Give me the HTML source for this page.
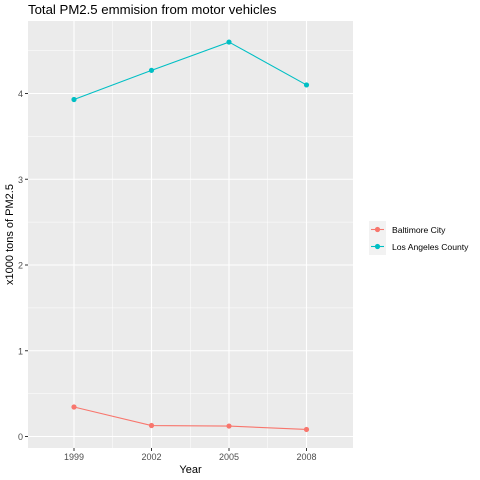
<!DOCTYPE html>
<html><head><meta charset="utf-8"><style>
html,body{margin:0;padding:0;background:#fff;}
svg{display:block;font-family:"Liberation Sans",sans-serif;}
</style></head><body>
<svg id="chart" width="480" height="480" xmlns="http://www.w3.org/2000/svg"></svg>
<script>
const years = [1999, 2002, 2005, 2008];
const baltimore = [0.344, 0.128, 0.122, 0.082];
const losAngeles = [3.93, 4.27, 4.60, 4.10];
const yTicks = [0, 1, 2, 3, 4];
const seriesNames = ["Baltimore City", "Los Angeles County"];

const NS = "http://www.w3.org/2000/svg";
const svg = document.getElementById("chart");
const P = {l: 28, r: 353, t: 21, b: 448};
function xs(v){ return 74 + (v - 1999) * (306.5 - 74) / 9; }
function ys(v){ return 436.5 - v * 85.75; }
function mk(tag, attrs, parent){
  const e = document.createElementNS(NS, tag);
  for (const k in attrs) e.setAttribute(k, attrs[k]);
  (parent || svg).appendChild(e);
  return e;
}
const panel = mk("rect", {x: P.l, y: P.t, width: P.r - P.l, height: P.b - P.t, fill: "#ebebeb"});


for (let i = 0; i < yTicks.length - 1; i++) {
  const y = ys((yTicks[i] + yTicks[i+1]) / 2);
  const g = mk("line", {x1: P.l, x2: P.r, y1: y, y2: y, stroke: "#fff", "stroke-width": 0.5});
  
  
}
{
  const y = ys(yTicks[yTicks.length-1] + 0.5);
  if (y > P.t) { const g = mk("line", {x1: P.l, x2: P.r, y1: y, y2: y, stroke: "#fff", "stroke-width": 0.5});
  
   }
}
for (let i = 0; i < years.length - 1; i++) {
  const x = xs((years[i] + years[i+1]) / 2);
  const g = mk("line", {x1: x, x2: x, y1: P.t, y2: P.b, stroke: "#fff", "stroke-width": 0.5});
  
  
}
yTicks.forEach(v => {
  const y = ys(v);
  const g = mk("line", {x1: P.l, x2: P.r, y1: y, y2: y, stroke: "#fff", "stroke-width": 1.1});
  
  
  const t = mk("line", {x1: P.l - 3, x2: P.l, y1: y, y2: y, stroke: "#333", "stroke-width": 1});
  
  
  const l = mk("text", {x: P.l - 5, y: y + 3.5, "text-anchor": "end", "font-size": 9, fill: "#4d4d4d"});
  l.textContent = v;
  
  
});
years.forEach(v => {
  const x = xs(v);
  const g = mk("line", {x1: x, x2: x, y1: P.t, y2: P.b, stroke: "#fff", "stroke-width": 1.1});
  
  
  const t = mk("line", {x1: x, x2: x, y1: P.b, y2: P.b + 3, stroke: "#333", "stroke-width": 1});
  
  
  const l = mk("text", {x: x, y: P.b + 12, "text-anchor": "middle", "font-size": 9, fill: "#4d4d4d"});
  l.textContent = v;
  
  
});
const colors = ["#f8766d", "#00bfc4"];
[baltimore, losAngeles].forEach((vals, si) => {
  const pts = vals.map((v, i) => xs(years[i]) + "," + ys(v)).join(" ");
  const pl = mk("polyline", {points: pts, fill: "none", stroke: colors[si], "stroke-width": 1.1});
  
  
  vals.forEach((v, i) => {
    const c = mk("circle", {cx: xs(years[i]), cy: ys(v), r: 2.6, fill: colors[si]});
    
    
  });
});
const tt = mk("text", {x: 28, y: 14, "font-size": 13.2, fill: "#000"});
tt.textContent = "Total PM2.5 emmision from motor vehicles";


const xt = mk("text", {x: (P.l + P.r) / 2, y: 473, "text-anchor": "middle", "font-size": 11, fill: "#000"});
xt.textContent = "Year";


const yt = mk("text", {x: 0, y: 0, "text-anchor": "middle", "font-size": 11, fill: "#000", transform: "translate(13," + ((P.t + P.b) / 2) + ") rotate(-90)"});
yt.textContent = "x1000 tons of PM2.5";


const lg = mk("g", {});


seriesNames.forEach((name, i) => {
  const y = 221 + i * 17;
  const kb = mk("rect", {x: 369, y: y, width: 17, height: 17, fill: "#f2f2f2"}, lg);
  
  
  const kl = mk("line", {x1: 371, x2: 384, y1: y + 8.5, y2: y + 8.5, stroke: colors[i], "stroke-width": 1.1}, lg);
  
  
  const kc = mk("circle", {cx: 377.5, cy: y + 8.5, r: 2.6, fill: colors[i]}, lg);
  
  
  const tx = mk("text", {x: 392, y: y + 12, "font-size": 8.6, fill: "#000"}, lg);
  tx.textContent = name;
  
  
});
</script>
</body></html>
